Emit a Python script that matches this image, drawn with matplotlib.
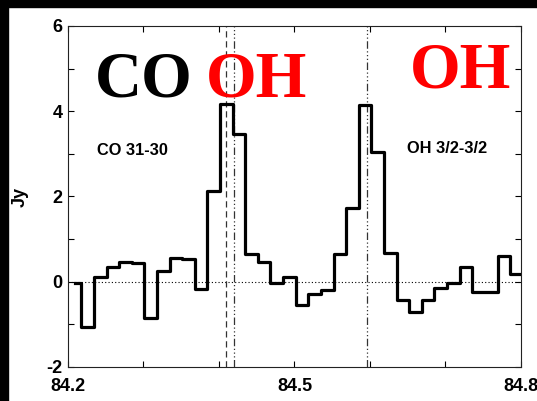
import numpy as np
import matplotlib.pyplot as plt
from matplotlib.patches import Rectangle
from matplotlib.ticker import FixedLocator, FuncFormatter

# spectrum: flux per channel (Jy), channels are equally spaced in wavelength
x_start = 84.2093
dx = 0.016704
flux = [-0.03, -1.06, 0.11, 0.34, 0.46, 0.44, -0.84, 0.26, 0.56, 0.54,
        -0.17, 2.12, 4.17, 3.47, 0.66, 0.46, -0.03, 0.10, -0.54, -0.29,
        -0.19, 0.66, 1.73, 4.14, 3.04, 0.68, -0.44, -0.71, -0.44, -0.15,
        -0.03, 0.34, -0.25, -0.23, 0.61, 0.19, 0.19]
wave = x_start + dx * np.arange(len(flux))

# line rest wavelengths (micron)
co_line = 84.4092
oh_lines = [84.4198, 84.5965]

fig = plt.figure(figsize=(5.37, 4.01), dpi=100)
fig.patch.set_facecolor('white')
ax = fig.add_axes([0.1266, 0.0848, 0.8436, 0.8504])

ax.plot(wave, flux, drawstyle='steps-mid', color='black', lw=2.3, zorder=3)
ax.axhline(0, color='black', lw=0.8, ls=(0, (1, 2)), zorder=1)
ax.axvline(co_line, color='#333333', lw=0.9, ls=(0, (5, 3)), zorder=2)
for w in oh_lines:
    ax.axvline(w, color='#333333', lw=0.9, ls=(0, (6, 2, 1, 2, 1, 2, 1, 2)), zorder=2)

ax.set_xlim(84.2, 84.8)
ax.set_ylim(-2, 6)

xt = np.round(np.arange(84.2, 84.801, 0.1), 1)
ax.xaxis.set_major_locator(FixedLocator(xt))
ax.xaxis.set_major_formatter(FuncFormatter(
    lambda v, p: f'{v:.1f}' if round(v, 1) in (84.2, 84.5, 84.8) else ''))
ax.yaxis.set_major_locator(FixedLocator(np.arange(-2, 7, 1)))
ax.yaxis.set_major_formatter(FuncFormatter(
    lambda v, p: f'{int(v)}' if int(round(v)) % 2 == 0 else ''))

ax.tick_params(direction='in', length=4.5, width=0.8, top=True, right=True,
               labelsize=13, colors='black')
ax.tick_params(axis='x', pad=8)
ax.tick_params(axis='y', pad=4)
for lab in ax.get_xticklabels() + ax.get_yticklabels():
    lab.set_fontweight('bold')
    lab.set_family('Liberation Sans')
for s in ax.spines.values():
    s.set_linewidth(0.8)
    s.set_color('#222222')

ax.set_ylabel('Jy', fontsize=13, fontweight='bold', family='Liberation Sans')
ax.yaxis.set_label_coords(-0.086, 0.5)

big = dict(family='Liberation Serif', fontweight='bold', fontsize=47,
           va='baseline', ha='left')
ax.text(84.236, 4.34, 'CO', color='black', **big)
ax.text(84.3830, 4.34, 'OH', color='red', **big)
ax.text(84.6525, 4.55, 'OH', color='red', **big)

small = dict(family='Liberation Sans', fontweight='bold', fontsize=11.8,
             va='baseline', ha='left')
ax.text(84.239, 2.98, 'CO 31-30', **small)
ax.text(84.6485, 3.02, 'OH 3/2-3/2', **small)

# black frame on the top and left edge
fig.patches.append(Rectangle((0, 1 - 7 / 401), 1, 7 / 401, transform=fig.transFigure,
                             color='black', zorder=10))
fig.patches.append(Rectangle((0, 0), 8 / 537, 1, transform=fig.transFigure,
                             color='black', zorder=10))

fig.savefig('out.png', dpi=100)
